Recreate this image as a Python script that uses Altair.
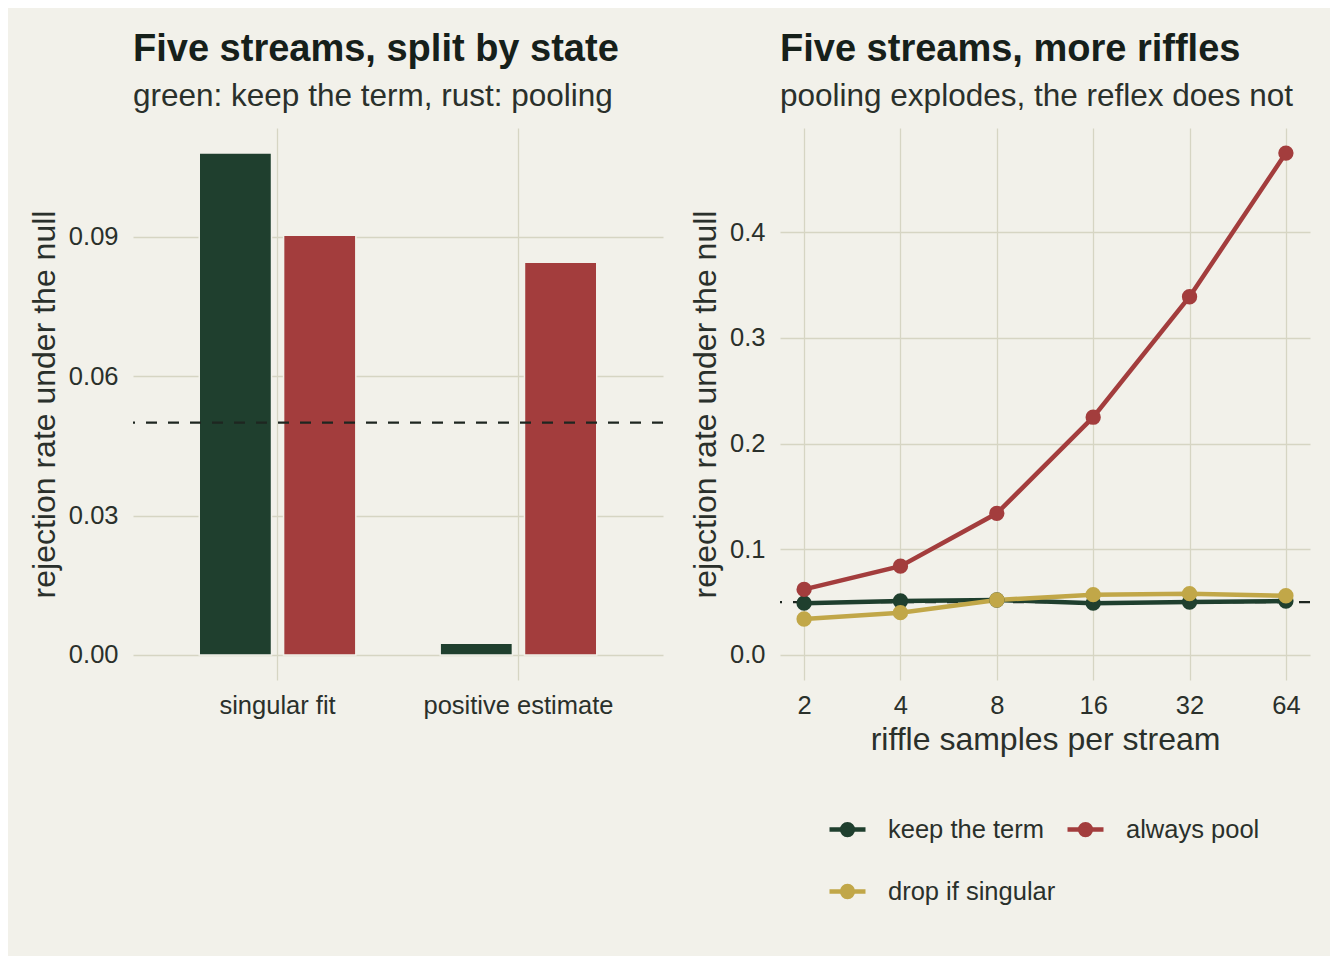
import altair as alt
import pandas as pd

BG = "#F2F1EA"
GREEN = "#1F3F2E"
RUST = "#A33D3D"
GOLD = "#C1A748"
GRID = "#D6D5C3"
TXT = "#2A302B"
TTL = "#16201A"
FONT = "Liberation Sans"

# left panel data
states = ["singular fit", "positive estimate"]
bar_methods = ["keep the term", "always pool"]
bar_keep = [0.108, 0.0025]
bar_pool = [0.0903, 0.0845]

# right panel data
riffles = [2, 4, 8, 16, 32, 64]
methods = ["keep the term", "always pool", "drop if singular"]
legend_order = ["keep the term", "drop if singular", "always pool"]
rate_keep = [0.049, 0.051, 0.052, 0.049, 0.050, 0.051]
rate_pool = [0.062, 0.084, 0.134, 0.225, 0.339, 0.475]
rate_drop = [0.034, 0.040, 0.052, 0.057, 0.058, 0.056]

null_level = [0.05]

bars_df = pd.DataFrame({
    "state": states * 2,
    "method": [bar_methods[0]] * 2 + [bar_methods[1]] * 2,
    "rate": bar_keep + bar_pool,
})
lines_df = pd.DataFrame({
    "n": riffles * 3,
    "method": [methods[0]] * 6 + [methods[1]] * 6 + [methods[2]] * 6,
    "rate": rate_keep + rate_pool + rate_drop,
})
ref_df = pd.DataFrame({"level": null_level})

ytitle = "rejection rate under the null"

def title(t, s):
    return alt.Title(
        text=t, subtitle=s, anchor="start", frame="group",
        font=FONT, fontSize=38, fontWeight="bold", color=TTL,
        subtitleFont=FONT, subtitleFontSize=31.5, subtitleColor=TXT,
        subtitlePadding=12, offset=16,
    )

# ---------- left ----------
bars = alt.Chart(bars_df).mark_bar(stroke=BG, strokeWidth=1.5).encode(
    x=alt.X("state:N", sort=states,
            scale=alt.Scale(paddingInner=0.3, paddingOuter=0.25),
            axis=alt.Axis(title=None, labelAngle=0, bandPosition=0.5, grid=True,
                          labelLimit=400)),
    xOffset=alt.XOffset("method:N", sort=bar_methods,
                        scale=alt.Scale(paddingInner=0.143, paddingOuter=0.0714)),
    y=alt.Y("rate:Q",
            scale=alt.Scale(domain=[-0.0054, 0.1134], nice=False, zero=False),
            axis=alt.Axis(values=[0, 0.03, 0.06, 0.09], format=".2f", title=ytitle)),
    y2=alt.datum(0),
    fill=alt.Fill("method:N", scale=alt.Scale(domain=bar_methods, range=[GREEN, RUST]),
                  legend=None),
)
rule_left = alt.Chart(ref_df).mark_rule(strokeDash=[11, 11], strokeWidth=2.4, color="#1E2620").encode(
    y="level:Q"
)
left = alt.layer(bars, rule_left).properties(
    width=530, height=552,
    title=title("Five streams, split by state", "green: keep the term, rust: pooling"),
)

# ---------- right ----------
line_path = "M-1,0L1,0M-0.3,0A0.3,0.3 0 1,0 0.3,0A0.3,0.3 0 1,0 -0.3,0Z"
leg = alt.Legend(
    title=None, orient="none", legendX=47, legendY=681, columns=2,
    values=legend_order,
    symbolType=line_path, symbolSize=1296, symbolStrokeWidth=4.5,
    labelFont=FONT, labelFontSize=25.5, labelColor=TXT, labelOffset=20,
    columnPadding=2, rowPadding=27, padding=0, labelLimit=400,
)
xr = alt.X("n:Q",
           scale=alt.Scale(type="log", base=2, domain=[1.6818, 76.11], nice=False),
           axis=alt.Axis(values=riffles, format="d", title="riffle samples per stream"))
yr = alt.Y("rate:Q",
           scale=alt.Scale(domain=[-0.02375, 0.49875], nice=False, zero=False),
           axis=alt.Axis(values=[0, 0.1, 0.2, 0.3, 0.4], format=".1f", title=ytitle))
col_range = [GREEN, RUST, GOLD]
rule_right = alt.Chart(ref_df).mark_rule(strokeDash=[11, 11], strokeWidth=2.4, color="#1E2620").encode(
    y="level:Q"
)
lines = alt.Chart(lines_df).mark_line(strokeWidth=4.5).encode(
    x=xr, y=yr,
    stroke=alt.Stroke("method:N", sort=methods,
                      scale=alt.Scale(domain=methods, range=col_range), legend=leg),
)
points = alt.Chart(lines_df).mark_point(filled=True, size=235, opacity=1, strokeWidth=0).encode(
    x=xr, y=yr,
    fill=alt.Fill("method:N", sort=methods,
                  scale=alt.Scale(domain=methods, range=col_range), legend=leg),
)
right = alt.layer(rule_right, lines, points).properties(
    width=530, height=552,
    title=title("Five streams, more riffles", "pooling explodes, the reflex does not"),
)

chart = alt.hconcat(left, right, spacing=24).resolve_scale(
    x="independent", y="independent", fill="independent", stroke="independent"
).configure(
    background=BG,
    padding={"left": 20, "top": 22, "right": 18, "bottom": 50},
    font=FONT,
).configure_view(stroke=None).configure_axis(
    domain=False, ticks=False, tickSize=0,
    grid=True, gridColor=GRID, gridWidth=1.3,
    labelFont=FONT, labelFontSize=25.5, labelColor=TXT, labelPadding=15,
    titleFont=FONT, titleFontSize=32, titleFontWeight="normal", titleColor=TXT,
    titlePadding=7,
).configure_axisX(labelPadding=13, titlePadding=6)

chart.save("out.html", embed_options={"renderer": "svg", "actions": False})
